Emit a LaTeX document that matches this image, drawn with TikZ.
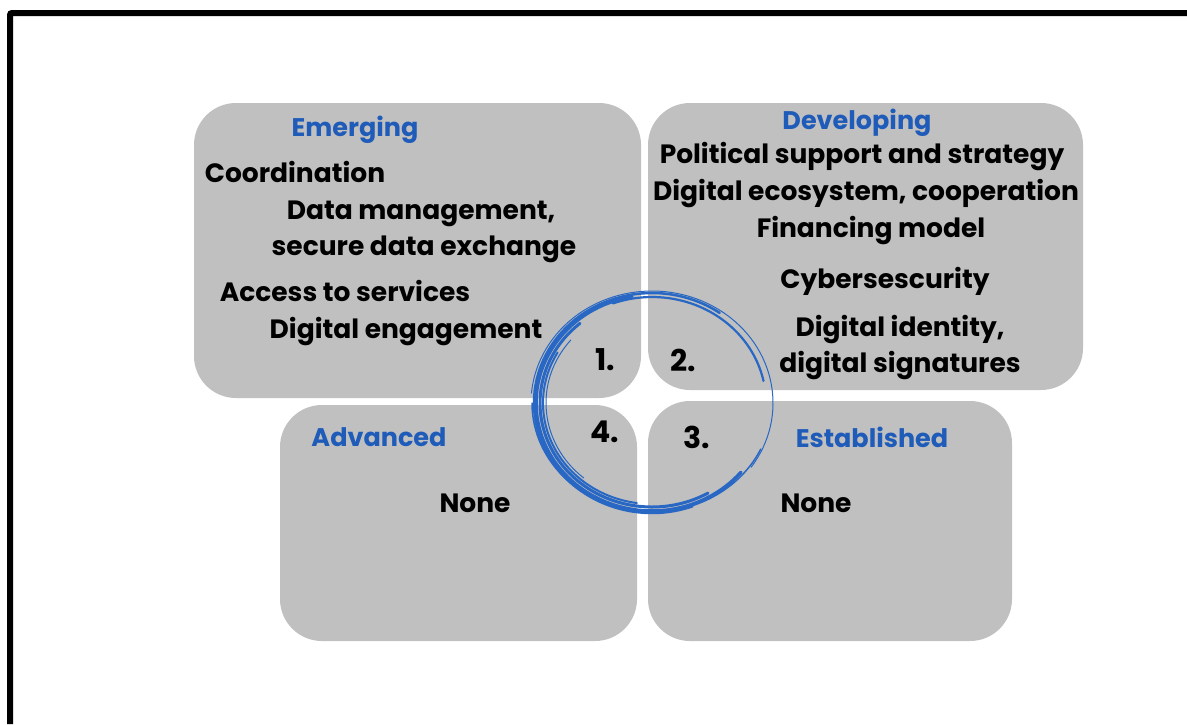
\documentclass[tikz,border=0pt]{standalone}
\usepackage{fontspec}
\setmainfont{Poppins}
\usetikzlibrary{positioning}
\definecolor{tileGray}{RGB}{192,192,192}
\definecolor{stageBlue}{RGB}{31,91,184}
\definecolor{swirlBlue}{RGB}{40,104,196}

\begin{document}
\begin{tikzpicture}[
        x=1pt, y=1pt,
        tile/.style={rectangle, fill=tileGray, rounded corners=42pt, inner sep=0pt},
        stage/.style={font=\fontsize{25.5}{30}\selectfont\bfseries, text=stageBlue, inner sep=0pt},
        item/.style={font=\fontsize{26.5}{30}\selectfont\bfseries, inner sep=0pt},
        num/.style={font=\fontsize{30}{34}\selectfont\bfseries, inner sep=0pt},
        swirl/.style={swirlBlue, line cap=round}
    ]

    % Rahmen
    \useasboundingbox (0,0) rectangle (1187,-724);
    \fill[white] (0,0) rectangle (1187,-724);
    \draw[line width=6pt, rounded corners=2pt] (10,-724) -- (10,-13) -- (1187,-13);

    % Quadranten
    \node (emerging) [tile, minimum width=447pt, minimum height=295pt] at (417.5,-250.5) {};
    \node (developing) [tile, minimum width=435pt, minimum height=287pt] at (865.5,-246.5) {};
    \node (advanced) [tile, minimum width=357pt, minimum height=236pt] at (458.5,-523) {};
    \node (established) [tile, minimum width=364pt, minimum height=240pt] at (830,-521) {};

    % Kreis
    \coordinate (hub) at (652,-403);
    \draw[swirl, line width=1pt] (hub) ++(-35:121 and 112) arc[start angle=-35, end angle=175, x radius=121, y radius=112];
    \draw[swirl, line width=2.2pt] (hub) ++(12:114 and 106) arc[start angle=12, end angle=110, x radius=114, y radius=106];
    \draw[swirl, line width=2.5pt] (hub) ++(55:118 and 110) arc[start angle=55, end angle=290, x radius=118, y radius=110];
    \draw[swirl, line width=3.5pt] (hub) ++(100:116 and 108) arc[start angle=100, end angle=320, x radius=116, y radius=108];
    \draw[swirl, line width=3pt] (hub) ++(130:112 and 104) arc[start angle=130, end angle=300, x radius=112, y radius=104];
    \draw[swirl, line width=1.5pt] (hub) ++(180:120 and 109) arc[start angle=180, end angle=335, x radius=120, y radius=109];
    \draw[swirl, line width=2pt] (hub) ++(150:109 and 101) arc[start angle=150, end angle=262, x radius=109, y radius=101];
    \draw[swirl, line width=1pt] (hub) ++(140:106 and 98) arc[start angle=140, end angle=230, x radius=106, y radius=98];

    % Emerging
    \node (t_emerging) [stage] at (355,-130) {Emerging};
    \node (coord) [item] at (295,-172) {Coordination};
    \node (datamgmt) [item] at (421,-214) {Data management,};
    \node (exchange) [item] at (424,-249) {secure data exchange};
    \node (access) [item] at (345,-291) {Access to services};
    \node (engage) [item] at (406,-332) {Digital engagement};

    % Developing
    \node (t_developing) [stage] at (857,-123) {Developing};
    \node (political) [item] at (862,-157) {Political support and strategy};
    \node (ecosystem) [item] at (866,-194) {Digital ecosystem, cooperation};
    \node (financing) [item] at (871,-231) {Financing model};
    \node (cyber) [item] at (885,-281) {Cybersescurity};
    \node (identity) [item] at (900,-330) {Digital identity,};
    \node (signatures) [item] at (900,-366) {digital signatures};

    % Advanced / Established
    \node (t_advanced) [stage] at (379,-437) {Advanced};
    \node (none_adv) [item] at (475,-503) {None};
    \node (t_established) [stage] at (872,-437) {Established};
    \node (none_est) [item] at (816,-503) {None};

    % Nummern
    \node (n1) [num] at (605,-360) {1.};
    \node (n2) [num] at (683,-360) {2.};
    \node (n3) [num] at (697,-437) {3.};
    \node (n4) [num] at (605,-432) {4.};

\end{tikzpicture}
\end{document}
